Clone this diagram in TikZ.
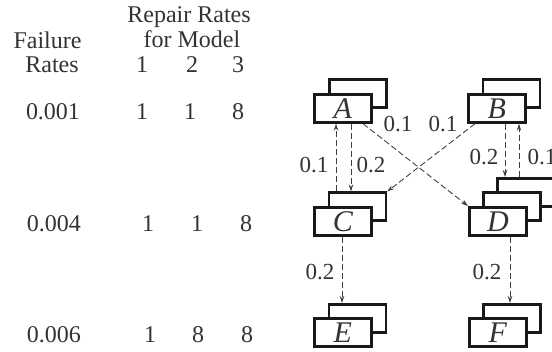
\documentclass[tikz,border=0pt]{standalone}
\usepackage{fontspec}
\setmainfont{Liberation Serif}
\usetikzlibrary{arrows.meta}
\begin{document}
\begin{tikzpicture}[x=1pt,y=-1pt,
  tbl/.style={font=\fontsize{24}{26}\selectfont, text=black!80, inner sep=0pt, anchor=base},
  lbl/.style={font=\fontsize{23}{24}\selectfont, text=black!80, inner sep=0pt, anchor=base},
  box/.style={draw=black!90, line width=2.7pt, fill=white, minimum width=57pt, minimum height=28pt, inner sep=0pt, anchor=north west, font=\fontsize{30}{30}\selectfont\itshape, text=black!80},
  arr/.style={draw=black!75, line width=0.9pt, dash pattern=on 6pt off 3pt, -{Stealth[length=7pt,width=4.5pt]}}]
\useasboundingbox (0,0) rectangle (552,352);
% table
\node[tbl] (h1) at (189,23) {Repair Rates};
\node[tbl] (h2) at (192,48) {for Model};
\node[tbl] (h3) at (47.5,49) {Failure};
\node[tbl] (h4) at (52,73) {Rates};
\node[tbl] (m1) at (142,73) {1};
\node[tbl] (m2) at (192,73) {2};
\node[tbl] (m3) at (238,73) {3};
\node[tbl] (r1) at (53,120) {0.001};
\node[tbl] (r1a) at (142,120) {1};
\node[tbl] (r1b) at (190,120) {1};
\node[tbl] (r1c) at (238,120) {8};
\node[tbl] (r2) at (54,232) {0.004};
\node[tbl] (r2a) at (148,232) {1};
\node[tbl] (r2b) at (197,232) {1};
\node[tbl] (r2c) at (246,232) {8};
\node[tbl] (r3) at (54,343) {0.006};
\node[tbl] (r3a) at (150,343) {1};
\node[tbl] (r3b) at (198,343) {8};
\node[tbl] (r3c) at (247,343) {8};
% boxes
\node[box] (A2) at (328,78) {};
\node[box] (A) at (313,93) {A};
\node[box] (B2) at (481.5,78) {};
\node[box] (B) at (467,93) {B};
\node[box] (C2) at (327.5,191.5) {};
\node[box] (C) at (313,206) {C};
\node[box] (D3) at (496,177) {};
\node[box] (D2) at (482,191.5) {};
\node[box] (D) at (468,206) {D};
\node[box] (E2) at (327.5,303) {};
\node[box] (E) at (313,317) {E};
\node[box] (F2) at (482,303) {};
\node[box] (F) at (468,317) {F};
% connectors
\draw[arr] ([xshift=8.5pt]C2.north west) -- ([xshift=8.5pt]C2.north west |- A.south);
\draw[arr] ([xshift=38pt]A.south west) -- ([xshift=38pt]A.south west |- C2.north);
\draw[arr] ([xshift=38pt]B.south west) -- ([xshift=38pt]B.south west |- D3.north);
\draw[arr] ([xshift=23pt]D3.north west) -- ([xshift=23pt]D3.north west |- B.south);
\draw[arr] ([xshift=50pt]A.south west) -- (D.north west);
\draw[arr] ([xshift=8pt]B.south west) -- (C2.north east);
\draw[arr] ([xshift=29pt]C.south west) -- ([xshift=29pt]C.south west |- E2.north);
\draw[arr] ([xshift=42pt]D.south west) -- ([xshift=42pt]D.south west |- F2.north);
% labels
\node[lbl] (l1) at (314,173) {0.1};
\node[lbl] (l2) at (371,173) {0.2};
\node[lbl] (l3) at (398,132) {0.1};
\node[lbl] (l4) at (443,132) {0.1};
\node[lbl] (l5) at (484,165) {0.2};
\node[lbl] (l6) at (542,165) {0.1};
\node[lbl] (l7) at (320,280) {0.2};
\node[lbl] (l8) at (487,280) {0.2};
\end{tikzpicture}
\end{document}
